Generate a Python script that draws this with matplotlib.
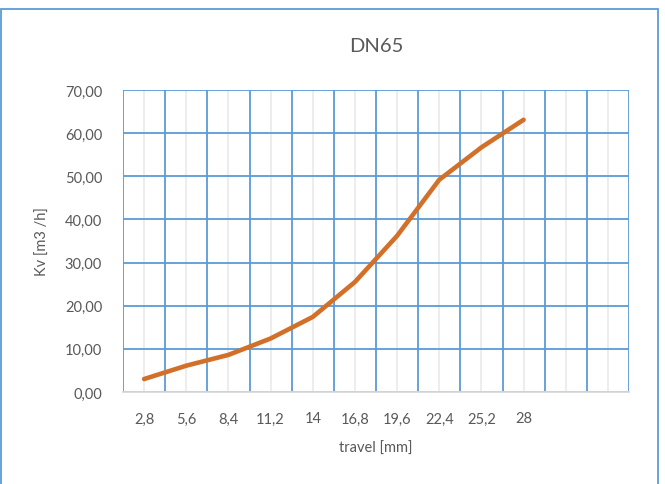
import numpy as np
import matplotlib.pyplot as plt
from matplotlib.patches import Rectangle

plt.rcParams['font.family'] = ['Lato', 'DejaVu Sans']

# data
travel = ['2,8', '5,6', '8,4', '11,2', '14', '16,8', '19,6', '22,4', '25,2', '28', '', '']
kv = [3.0, 6.1, 8.6, 12.4, 17.4, 25.5, 36.2, 49.2, 56.7, 63.1]
yticks = [0, 10, 20, 30, 40, 50, 60, 70]

blue = '#5b9bd5'
txt = '#595959'

fig = plt.figure(figsize=(6.65, 4.85), dpi=100)
ax = fig.add_axes([123/665, 1 - 393/485, 506/665, 302/485])

n = len(travel)
x = np.arange(n)
ax.set_xlim(-0.5, n - 0.5)
ax.set_ylim(0, 70)

# gridlines: blue majors at category boundaries, light minors at centres
ax.set_xticks(np.arange(n + 1) - 0.5)
ax.set_xticks(x, minor=True)
ax.set_yticks(yticks)
ax.grid(True, which='major', color=blue, lw=1.3)
ax.grid(True, which='minor', axis='x', color='#ececec', lw=1.3)
ax.set_axisbelow(True)

ax.tick_params(axis='x', which='major', length=0, labelbottom=False)
ax.tick_params(axis='x', which='minor', length=0, pad=14, labelsize=10.5, labelcolor=txt)
ax.set_xticklabels(travel, minor=True)
ax.tick_params(axis='y', length=0, pad=15, labelsize=10.5, labelcolor=txt)
ax.set_yticklabels(['%d,00' % v for v in yticks])

for s in ['top', 'right', 'left']:
    ax.spines[s].set_visible(False)
ax.spines['bottom'].set_color('#d9d9d9')
ax.spines['bottom'].set_linewidth(1.3)

ax.plot(x[:len(kv)], kv, color='#d2702a', lw=3.3, solid_capstyle='round',
        solid_joinstyle='round', zorder=3)

fig.text(376/665, 1 - 47/485, 'DN65', ha='center', va='center', fontsize=14.5, color=txt)
ax.set_xlabel('travel [mm]', fontsize=10.5, color=txt, labelpad=11)
ax.set_ylabel('Kv [m3 /h]', fontsize=10.5, color=txt, labelpad=11)

fig.patches.append(Rectangle((1/665, -0.05), 657/665, 1 - 10/485 + 0.05,
                             transform=fig.transFigure, fill=False,
                             edgecolor=blue, lw=1.3))

fig.savefig('out.png', dpi=100)
